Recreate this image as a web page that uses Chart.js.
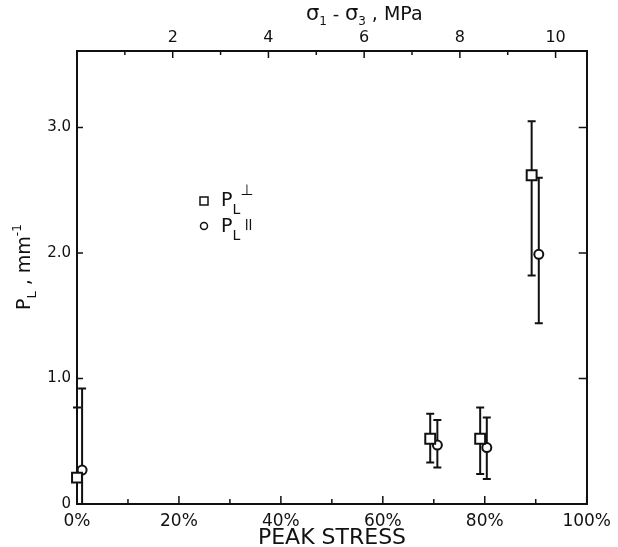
<!DOCTYPE html>
<html>
<head>
<meta charset="utf-8">
<script src="https://cdn.jsdelivr.net/npm/chart.js@4.4.0/dist/chart.umd.min.js"></script>
<style>
    html, body { margin: 0; padding: 0; background: #fff; }
    #contenedor { width: 618px; height: 547px; }
</style>
</head>
<body>
<div id="contenedor"><canvas id="grafica" width="618" height="547"></canvas></div>
<script>
// datos (% de la tension pico, P_L en mm^-1)
const xCuadrado = [0, 69.3, 79.1, 89.2];
const yCuadrado = [0.21, 0.52, 0.52, 2.62];
const bajoCuadrado = [-0.35, 0.33, 0.24, 1.82];
const altoCuadrado = [0.77, 0.72, 0.77, 3.05];

const xCirculo = [1, 70.7, 80.4, 90.6];
const yCirculo = [0.27, 0.47, 0.45, 1.99];
const bajoCirculo = [-0.38, 0.29, 0.20, 1.44];
const altoCirculo = [0.92, 0.67, 0.69, 2.60];

const ticksX = [0, 10, 20, 30, 40, 50, 60, 70, 80, 90, 100];
const ticksY = [0, 1, 2, 3];
const ticksMPa = [1, 2, 3, 4, 5, 6, 7, 8, 9, 10];

const FUENTE = '"DejaVu Sans", sans-serif';
const NEGRO = '#111';

// marcas de las escalas hacia dentro
const marcasPlugin = {
    id: 'marcas',
    afterDraw(chart) {
        const ctx = chart.ctx;
        const a = chart.chartArea;
        const s = chart.scales;
        ctx.save();
        ctx.strokeStyle = NEGRO;
        ctx.lineWidth = 1.5;
        ctx.beginPath();
        ticksX.forEach(v => {
            const px = s.x.getPixelForValue(v);
            const l = v % 20 === 0 ? 8 : 5;
            ctx.moveTo(px, a.bottom);
            ctx.lineTo(px, a.bottom - l);
        });
        ticksMPa.forEach(v => {
            const px = s.x2.getPixelForValue(v);
            const l = v % 2 === 0 ? 7 : 4;
            ctx.moveTo(px, a.top);
            ctx.lineTo(px, a.top + l);
        });
        ticksY.forEach(v => {
            if (v === 0) return;
            const py = s.y.getPixelForValue(v);
            ctx.moveTo(a.left, py);
            ctx.lineTo(a.left + 6, py);
            ctx.moveTo(a.right, py);
            ctx.lineTo(a.right - 8, py);
        });
        ctx.stroke();
        ctx.restore();
    }
};

// barras de error, antes de los puntos para que los tapen
const erroresPlugin = {
    id: 'errores',
    beforeDatasetsDraw(chart) {
        const ctx = chart.ctx;
        const a = chart.chartArea;
        const y = chart.scales.y;
        ctx.save();
        ctx.strokeStyle = NEGRO;
        ctx.lineWidth = 2;
        chart.data.datasets.forEach((ds, i) => {
            const meta = chart.getDatasetMeta(i);
            meta.data.forEach((p, j) => {
                const yAlto = y.getPixelForValue(ds.alto[j]);
                let yBajo = y.getPixelForValue(ds.bajo[j]);
                const cortado = yBajo > a.bottom;
                if (cortado) yBajo = a.bottom;
                ctx.beginPath();
                ctx.moveTo(p.x, yAlto);
                ctx.lineTo(p.x, yBajo);
                ctx.moveTo(p.x - 4, yAlto);
                ctx.lineTo(p.x + 4, yAlto);
                if (!cortado) {
                    ctx.moveTo(p.x - 4, yBajo);
                    ctx.lineTo(p.x + 4, yBajo);
                }
                ctx.stroke();
            });
        });
        ctx.restore();
    }
};

// titulos y leyenda con subindices
function textos(ctx, partes, x, y) {
    partes.forEach(([t, tam, dy]) => {
        ctx.font = tam + 'px ' + FUENTE;
        ctx.fillText(t, x, y + dy);
        x += ctx.measureText(t).width;
    });
}

const textosPlugin = {
    id: 'textos',
    afterDraw(chart) {
        const ctx = chart.ctx;
        ctx.save();
        ctx.fillStyle = NEGRO;
        ctx.textBaseline = 'alphabetic';

        // titulo superior
        textos(ctx, [['σ', 21, 0], ['1', 12, 5], [' - ', 18, 0], ['σ', 21, 0], ['3', 12, 5], [' , MPa', 19, 0]], 306, 20);

        // titulo inferior
        ctx.font = '22px ' + FUENTE;
        ctx.textAlign = 'center';
        ctx.fillText('PEAK STRESS', 332, 544);
        ctx.textAlign = 'left';

        // titulo del eje y
        ctx.save();
        ctx.translate(30, 310);
        ctx.rotate(-Math.PI / 2);
        textos(ctx, [['P', 19, 0], ['L', 13, 6], [' , mm', 19, 0], ['-1', 12, -9]], 0, 0);
        ctx.restore();

        // leyenda
        ctx.strokeStyle = NEGRO;
        ctx.lineWidth = 1.5;
        ctx.strokeRect(200, 197, 8, 8);
        ctx.beginPath();
        ctx.arc(204, 226, 3.5, 0, Math.PI * 2);
        ctx.stroke();
        textos(ctx, [['P', 19, 0], ['L', 14, 8], ['⊥', 15, -11]], 221, 206);
        textos(ctx, [['P', 19, 0], ['L', 14, 8], [' ll', 14, -2]], 221, 232);
        ctx.restore();
    }
};

const ctxGrafica = document.getElementById('grafica').getContext('2d');

const grafica = new Chart(ctxGrafica, {
    type: 'scatter',
    data: {
        datasets: [{
            label: 'PL perpendicular',
            data: xCuadrado.map((x, i) => ({ x: x, y: yCuadrado[i] })),
            bajo: bajoCuadrado,
            alto: altoCuadrado,
            pointStyle: 'rect',
            pointRadius: 7,
            borderColor: NEGRO,
            borderWidth: 2,
            backgroundColor: '#fff',
            clip: false
        }, {
            label: 'PL paralelo',
            data: xCirculo.map((x, i) => ({ x: x, y: yCirculo[i] })),
            bajo: bajoCirculo,
            alto: altoCirculo,
            pointStyle: 'circle',
            pointRadius: 4.5,
            borderColor: NEGRO,
            borderWidth: 2,
            backgroundColor: '#fff',
            clip: false
        }]
    },
    options: {
        responsive: false,
        animation: false,
        devicePixelRatio: 1,
        layout: { padding: { right: 30 } },
        plugins: {
            legend: { display: false },
            tooltip: { enabled: false }
        },
        scales: {
            x: {
                type: 'linear',
                position: 'bottom',
                min: 0,
                max: 100,
                afterBuildTicks: s => { s.ticks = ticksX.map(v => ({ value: v })); },
                afterFit: s => { s.height = 43; },
                grid: { display: false, drawTicks: false },
                border: { display: true, color: NEGRO, width: 2 },
                ticks: {
                    autoSkip: false,
                    maxRotation: 0,
                    padding: 7,
                    color: NEGRO,
                    font: { family: FUENTE, size: 17 },
                    callback: v => v % 20 === 0 ? v + '%' : ''
                }
            },
            x2: {
                type: 'linear',
                position: 'top',
                min: 0,
                max: 10.65,
                afterBuildTicks: s => { s.ticks = ticksMPa.map(v => ({ value: v })); },
                afterFit: s => { s.height = 51; },
                grid: { display: false, drawTicks: false },
                border: { display: true, color: NEGRO, width: 2 },
                ticks: {
                    autoSkip: false,
                    maxRotation: 0,
                    padding: 4,
                    color: NEGRO,
                    font: { family: FUENTE, size: 16 },
                    callback: v => v % 2 === 0 ? v : ''
                }
            },
            y: {
                type: 'linear',
                position: 'left',
                min: 0,
                max: 3.61,
                afterBuildTicks: s => { s.ticks = ticksY.map(v => ({ value: v })); },
                afterFit: s => { s.width = 77; },
                grid: { display: false, drawTicks: false },
                border: { display: true, color: NEGRO, width: 2 },
                ticks: {
                    padding: 6,
                    color: NEGRO,
                    font: { family: FUENTE, size: 15 },
                    callback: v => v === 0 ? '0' : v.toFixed(1)
                }
            },
            y2: {
                type: 'linear',
                position: 'right',
                min: 0,
                max: 3.61,
                afterFit: s => { s.width = 0; },
                grid: { display: false },
                border: { display: true, color: NEGRO, width: 2 },
                ticks: { display: false }
            }
        }
    },
    plugins: [erroresPlugin, marcasPlugin, textosPlugin]
});
</script>
</body>
</html>
